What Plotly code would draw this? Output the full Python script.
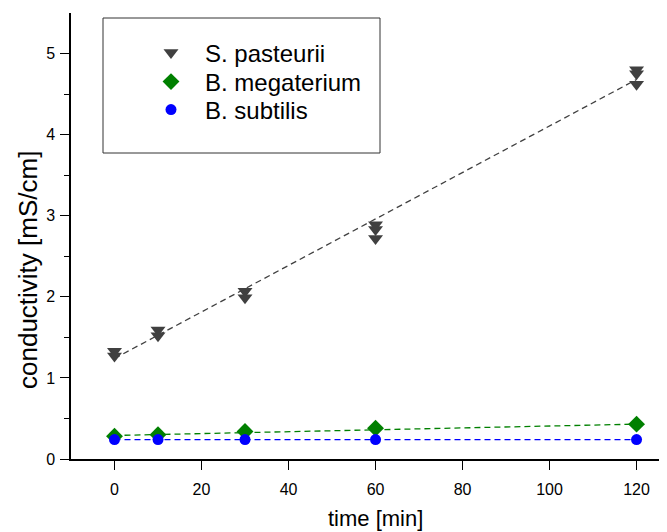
import plotly.graph_objects as go

# ---- data ----
time_sp = [0, 0, 10, 10, 30, 30, 60, 60, 60, 120, 120, 120]
cond_sp = [1.33, 1.27, 1.59, 1.52, 2.07, 1.99, 2.89, 2.83, 2.72, 4.80, 4.75, 4.62]
fit_sp_x = [0, 120]
fit_sp_y = [1.24, 4.68]

time_bm = [0, 10, 30, 60, 120]
cond_bm = [0.28, 0.30, 0.34, 0.38, 0.43]
fit_bm_x = [0, 120]
fit_bm_y = [0.29, 0.43]

time_bs = [0, 10, 30, 60, 120]
cond_bs = [0.24, 0.24, 0.24, 0.24, 0.24]
fit_bs_x = [0, 120]
fit_bs_y = [0.24, 0.24]

names = ["S. pasteurii", "B. megaterium", "B. subtilis"]
colors = ["#404040", "#008000", "#0000ff"]
x_ticks = [0, 20, 40, 60, 80, 100, 120]
y_ticks = [0, 1, 2, 3, 4, 5]
y_minor = [0.5, 1.5, 2.5, 3.5, 4.5]

FONT = "Arial, 'Liberation Sans', sans-serif"

# the page body has an 8px margin, so the figure sits at (8, 8) in the window
OFF = 8
W, H = 667 - OFF, 532 - OFF
L, R, T, B = 71 - OFF, 0, 13 - OFF, H - (459 - OFF)
pw, ph = W - L - R, H - T - B


def px_x(x):
    return (x - OFF - L) / pw


def px_y(y):
    return (H - B - (y - OFF)) / ph


fig = go.Figure()

# fit lines (dashed)
for fx, fy, c in [(fit_sp_x, fit_sp_y, colors[0]), (fit_bm_x, fit_bm_y, colors[1]), (fit_bs_x, fit_bs_y, colors[2])]:
    fig.add_trace(go.Scatter(x=fx, y=fy, mode="lines", showlegend=False, hoverinfo="skip",
                             line=dict(color=c, width=1.3, dash="6px,4px")))

fig.add_trace(go.Scatter(x=time_sp, y=cond_sp, mode="markers", name=names[0], legend="legend",
                         marker=dict(symbol="triangle-down", size=13, color=colors[0])))
fig.add_trace(go.Scatter(x=time_bm, y=cond_bm, mode="markers", name=names[1], legend="legend2",
                         marker=dict(symbol="diamond", size=13, color=colors[1])))
fig.add_trace(go.Scatter(x=time_bs, y=cond_bs, mode="markers", name=names[2], legend="legend3",
                         marker=dict(symbol="circle", size=11, color=colors[2])))

# legend frame
fig.add_shape(type="rect", xref="paper", yref="paper",
              x0=px_x(103), x1=px_x(380), y0=px_y(153), y1=px_y(18),
              line=dict(color="#333333", width=1), fillcolor="rgba(0,0,0,0)")


def leg(ypx):
    return dict(x=px_x(137), y=px_y(ypx), xanchor="left", yanchor="middle",
                bgcolor="rgba(0,0,0,0)", borderwidth=0, itemwidth=58,
                font=dict(size=24, family=FONT, color="black"))


# axis titles as annotations
fig.add_annotation(text="time [min]", xref="paper", yref="paper", x=px_x(375), y=px_y(518),
                   xanchor="center", yanchor="middle", showarrow=False,
                   font=dict(size=22, family=FONT, color="black"))
fig.add_annotation(text="conductivity [mS/cm]", xref="paper", yref="paper", x=px_x(28), y=px_y(270),
                   xanchor="center", yanchor="middle", showarrow=False, textangle=-90,
                   font=dict(size=26, family=FONT, color="black"))

fig.update_layout(
    width=W, height=H,
    margin=dict(l=L, r=R, t=T, b=B),
    paper_bgcolor="white", plot_bgcolor="white",
    font=dict(family=FONT, color="black", size=16),
    legend=leg(53), legend2=leg(82), legend3=leg(110),
    xaxis=dict(range=[-10, 127], tickvals=x_ticks, automargin=False,
               ticks="outside", ticklen=9, tickwidth=1.3, tickcolor="black",
               showline=True, linecolor="black", linewidth=1.5,
               showgrid=False, zeroline=False, ticklabelstandoff=6,
               tickfont=dict(size=16)),
    yaxis=dict(range=[0, 5.5], tickvals=y_ticks, automargin=False,
               ticks="outside", ticklen=9, tickwidth=1.3, tickcolor="black",
               showline=True, linecolor="black", linewidth=1.5,
               showgrid=False, zeroline=False, ticklabelstandoff=2,
               tickfont=dict(size=16),
               minor=dict(tickvals=y_minor, ticks="outside", ticklen=5,
                          tickcolor="black", tickwidth=1.3, showgrid=False)),
)

fig.write_html("out.html")
